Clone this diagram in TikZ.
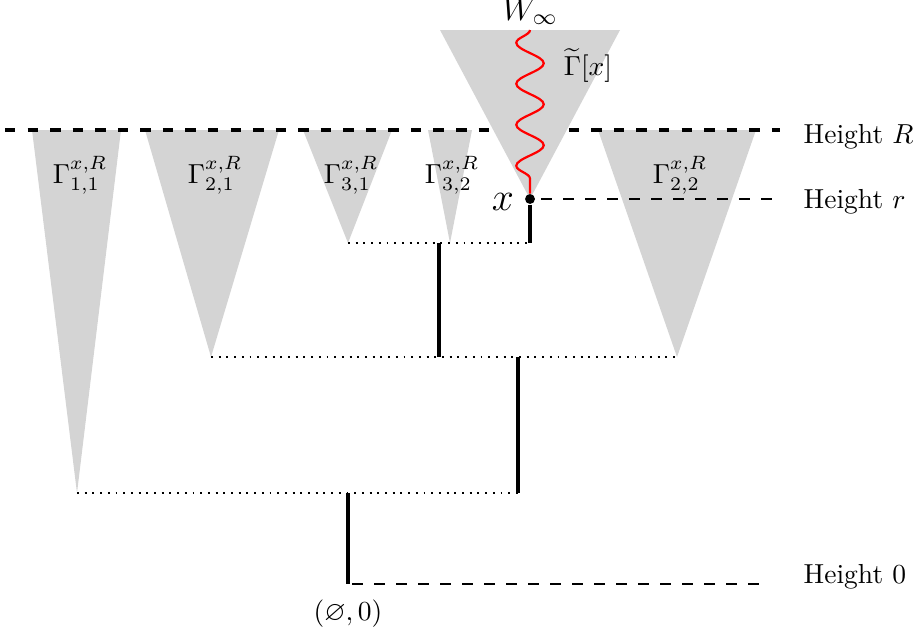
\documentclass[tikz,border=0pt]{standalone}
\usepackage{amsmath,amssymb}
\usepackage{tikz}
\usetikzlibrary{decorations.pathmorphing,positioning}

\begin{document}
\begin{tikzpicture}[
    x=0.3636pt, y=-0.3636pt,
    cone/.style={fill=black!17, draw=none},
    branch/.style={line width=1.8pt},
    link/.style={thin, dash pattern=on 0.7pt off 2.1pt},
    levelR/.style={line width=1.1pt, dash pattern=on 3.8pt off 4.4pt},
    level/.style={thin, dash pattern=on 4pt off 4pt},
    spine/.style={red, thick, decorate, decoration={snake, mirror, amplitude=5pt, segment length=14.9pt}},
    hlabel/.style={anchor=base west},
    glabel/.style={anchor=base}
]
    \useasboundingbox (0,0) rectangle (920,632);

    \coordinate (root) at (348,584);
    \coordinate (j1) at (348,493);
    \coordinate (j1r) at (518,493);
    \coordinate (j2) at (518,357);
    \coordinate (j2l) at (439,357);
    \coordinate (j3) at (439,243);
    \coordinate (j3r) at (530,243);
    \coordinate (a11) at (77,493);
    \coordinate (a21) at (211,357);
    \coordinate (a31) at (348,243);
    \coordinate (a32) at (450,243);
    \coordinate (a22) at (677,357);
    \coordinate (top) at (530,30);

    \fill[cone] (32,130) -- (121,130) -- (a11) -- cycle;
    \fill[cone] (145,130) -- (279,130) -- (a21) -- cycle;
    \fill[cone] (303,130) -- (392,130) -- (a31) -- cycle;
    \fill[cone] (428,130) -- (472,130) -- (a32) -- cycle;
    \fill[cone] (598,130) -- (756,130) -- (a22) -- cycle;

    \coordinate (rl) at (5,130);
    \coordinate (rr) at (780,130);
    \draw[levelR] (rl) -- (rr);

    \fill[cone] (440,30) -- (620,30) -- (530,199) -- cycle;

    \node[circle, fill, inner sep=0pt, minimum size=3.6pt] (x) at (530,199) {};
    \coordinate (sr) at (780,199);
    \coordinate (zl) at (352,584);
    \coordinate (zr) at (770,584);
    \draw[level] ([xshift=2pt]x.east) -- (sr);
    \draw[level] (zl) -- (zr);

    \draw[spine] (top) -- (x.north);

    \draw[link] (a31) -- (j3r);
    \draw[link] (a21) -- (a22);
    \draw[link] (a11) -- (j1r);

    \draw[branch] (x.south) -- (j3r);
    \draw[branch] (j3) -- (j2l);
    \draw[branch] (j2) -- (j1r);
    \draw[branch] (j1) -- (root);

    \node[glabel] (winf) at (530,20) {\large $W_\infty$};
    \node[glabel] (gtx) at (588,75) {$\widetilde{\Gamma}[x]$};
    \node[anchor=base east, inner sep=2pt] (xl) at (520,210) {\Large $x$};
    \node[glabel] (g11) at (80,183) {$\Gamma^{x,R}_{1,1}$};
    \node[glabel] (g21) at (215,183) {$\Gamma^{x,R}_{2,1}$};
    \node[glabel] (g31) at (351,183) {$\Gamma^{x,R}_{3,1}$};
    \node[glabel] (g32) at (452,183) {$\Gamma^{x,R}_{3,2}$};
    \node[glabel] (g22) at (680,183) {$\Gamma^{x,R}_{2,2}$};
    \node[glabel] (origin) at (348,620) {$(\varnothing,0)$};

    \node[hlabel] (hR) at (794,143) {Height $R$};
    \node[hlabel] (hr) at (794,208) {Height $r$};
    \node[hlabel] (h0) at (794,583) {Height $0$};
\end{tikzpicture}
\end{document}
